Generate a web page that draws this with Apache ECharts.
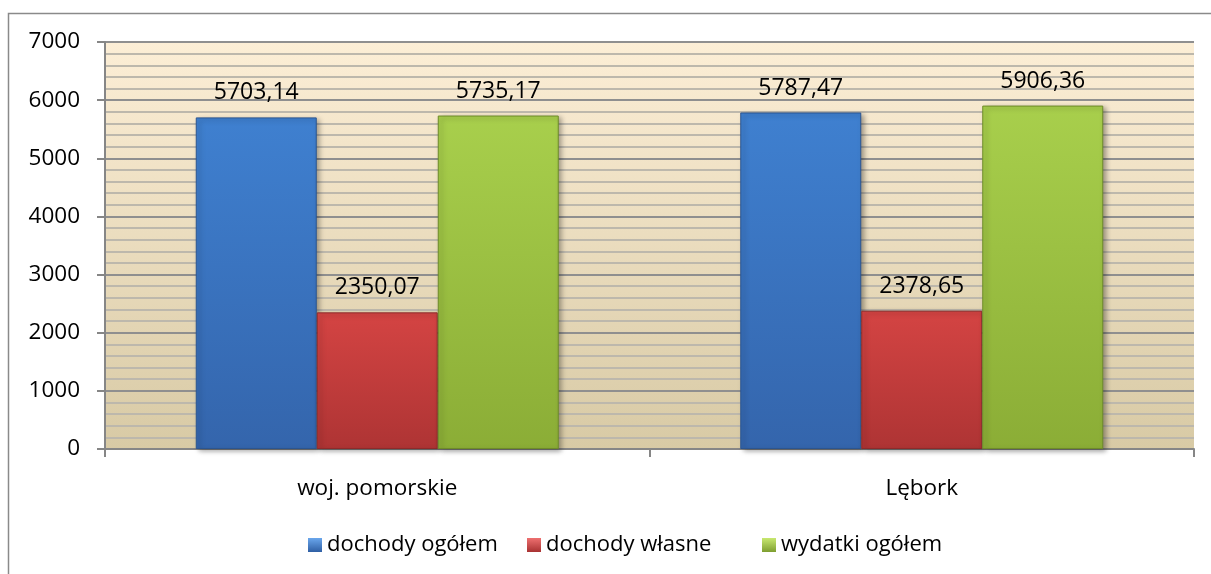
<!DOCTYPE html>
<html><head><meta charset="utf-8">
<script src="https://cdn.jsdelivr.net/npm/echarts@6/dist/echarts.min.js"></script>
<style>html,body{margin:0;padding:0;background:#fff}#c{width:1211px;height:574px}</style>
</head><body><div id="c"></div>
<script>
const categories = ['woj. pomorskie', 'Lębork'];
const seriesNames = ['dochody ogółem', 'dochody własne', 'wydatki ogółem'];
const dochodyOgolem = [5703.14, 5787.47];
const dochodyWlasne = [2350.07, 2378.65];
const wydatkiOgolem = [5735.17, 5906.36];
const yTicks = [0, 1000, 2000, 3000, 4000, 5000, 6000, 7000];

const FONT = 'Open Sans';
function grad(top, bottom) {
  return new echarts.graphic.LinearGradient(0, 0, 0, 1, [
    {offset: 0, color: top}, {offset: 1, color: bottom}]);
}
const palettes = [
  {fill: grad('#3F80D0', '#3465AC'), border: '#2B5590', icon: grad('#6AA6EC', '#2F5FA4')},
  {fill: grad('#D44443', '#AE3434'), border: '#8E2A2A', icon: grad('#EE7070', '#A83232')},
  {fill: grad('#A8CF4C', '#8BAD36'), border: '#6E8B29', icon: grad('#C8E870', '#7E9E30')}
];
const dataSets = [dochodyOgolem, dochodyWlasne, wydatkiOgolem];
const legendLefts = [303, 522, 757];

const chart = echarts.init(document.getElementById('c'), null, {renderer: 'canvas'});
chart.setOption({
  animation: false,
  textStyle: {fontFamily: FONT},
  graphic: [{
    type: 'rect', shape: {x: 8.5, y: 13.5, width: 1240, height: 600},
    style: {fill: 'none', stroke: '#8A8A8A', lineWidth: 1.5}, silent: true, z: -10
  }],
  grid: {
    left: 105, top: 42, right: 17, bottom: 125,
    show: true, borderWidth: 0,
    backgroundColor: {type: 'linear', x: 0, y: 0, x2: 0, y2: 1,
      colorStops: [{offset: 0, color: '#FCEED6'}, {offset: 1, color: '#D8CAA5'}]}
  },
  legend: seriesNames.map((n, i) => ({
    bottom: 13, left: legendLefts[i], padding: [5, 5, 5, 5],
    itemWidth: 14, itemHeight: 14,
    textStyle: {fontFamily: FONT, fontSize: 22, color: '#000'},
    data: [{name: n, icon: 'rect', itemStyle: {color: palettes[i].icon, borderWidth: 0}}]
  })),
  xAxis: {
    type: 'category', data: categories,
    axisLine: {lineStyle: {color: '#868686', width: 2}},
    axisTick: {show: true, length: 8, lineStyle: {color: '#868686', width: 2}},
    axisLabel: {fontFamily: FONT, fontSize: 22.5, color: '#000', margin: 28},
    splitLine: {show: false}
  },
  yAxis: {
    type: 'value', min: yTicks[0], max: yTicks[yTicks.length - 1], interval: 1000,
    axisLine: {show: true, lineStyle: {color: '#868686', width: 2}},
    axisTick: {show: true, length: 8, lineStyle: {color: '#868686', width: 2}},
    axisLabel: {fontFamily: FONT, fontSize: 22.5, color: '#000', margin: 25, formatter: v => String(v)},
    splitLine: {show: true, lineStyle: {color: '#8F8F8F', width: 2}},
    minorTick: {show: false, splitNumber: 5},
    minorSplitLine: {show: true, lineStyle: {color: '#BDB8AC', width: 2}}
  },
  series: seriesNames.map((n, i) => ({
    name: n, type: 'bar', data: dataSets[i],
    barWidth: 121, barGap: '0%',
    itemStyle: {
      color: palettes[i].fill, borderColor: palettes[i].border, borderWidth: 1,
      shadowColor: 'rgba(0,0,0,0.35)', shadowBlur: 5, shadowOffsetX: 3, shadowOffsetY: 2
    },
    label: {
      show: true, position: 'top', distance: 13,
      fontFamily: FONT, fontSize: 23, color: '#000',
      formatter: p => p.value.toFixed(2).replace('.', ',')
    }
  }))
});
</script></body></html>
